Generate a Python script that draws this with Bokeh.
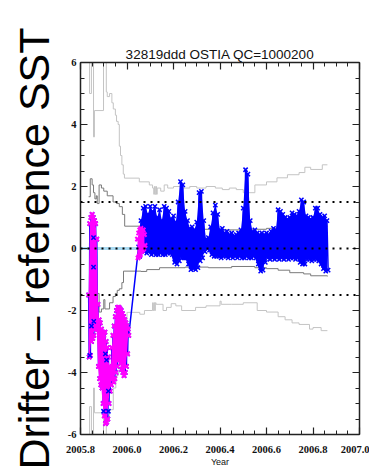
import numpy as np
from bokeh.plotting import figure
from bokeh.models import (FixedTicker, LinearAxis, Span, Title, Range1d,
                          CustomJSTickFormatter)
from bokeh.embed import file_html
from bokeh.resources import INLINE

TITLE = "32819ddd OSTIA QC=1000200"
Y_TITLE = "Drifter \u2013 reference SST"
X_TITLE = "Year"

x_ticks = [2005.8, 2006.0, 2006.2, 2006.4, 2006.6, 2006.8, 2007.0]
x_tick_labels = ["2005.8", "2006.0", "2006.2", "2006.4", "2006.6", "2006.8", "2007.0"]
y_ticks = [-6, -4, -2, 0, 2, 4, 6]
y_tick_labels = ["-6", "-4", "-2", "0", "2", "4", "6"]
thresholds = [1.5, 0.0, -1.5]

# early period (flagged, magenta) : high / low of each 0.005-yr bin
early_start = 2005.835
early_hi = [-1.5, 0.8, 1.0, 1.1, 1.0, 0.9, 0.8, 0.3, -1.8, -2.3,
            -2.4, -2.6, -2.7, -2.8, -2.7, -3.0, -3.2, -3.5, -3.8, -3.9,
            -3.2, -2.8, -2.5, -2.2, -2.0, -1.9, -1.9, -1.95, -2.0, -2.1,
            -2.2, -2.3, -2.4, -2.5, -2.6]
early_lo = [-3.5, -3.45, -3.0, -2.9, -2.8, -2.6, -2.5, -2.6, -3.8, -4.2,
            -4.4, -4.5, -5.0, -5.4, -5.65, -5.6, -5.5, -5.0, -4.6, -4.4,
            -4.2, -4.3, -4.2, -4.0, -3.8, -3.6, -3.5, -3.7, -3.9, -4.0,
            -4.1, -4.0, -3.8, -3.4, -2.8]

# later period (blue) : high / low of each 0.01-yr bin
late_start = 2006.05
late_hi = [0.05,
           0.9, 1.3, 1.36, 1.1, 1.36, 1.2, 1.36, 1.0, 1.25, 0.9,
           1.36, 1.3, 1.2, 0.95, 1.05, 0.85, 1.5, 2.16, 2.05, 1.2,
           0.9, 0.65, 0.7, 0.6, 0.85, 1.8, 1.84, 0.9, 0.3, 0.35,
           0.7, 1.15, 1.4, 1.1, 0.6, 0.65, 0.5, 0.55, 0.45, 0.5,
           0.4, 0.45, 0.5, 0.6, 1.3, 2.54, 2.4, 0.9, 0.55, 0.6,
           0.5, 0.45, 0.5, 0.45, 0.5, 0.45, 0.55, 0.65, 0.6, 1.25,
           1.2, 1.1, 1.0, 0.95, 1.0, 1.15, 1.1, 1.05, 1.2, 1.57,
           1.5, 1.05, 1.0, 0.95, 1.0, 1.3, 1.3, 1.1, 1.0, 1.05,
           0.9]
late_lo = [-0.25,
           -0.05, -0.1, -0.15, -0.1, -0.2, -0.15, -0.2, -0.2, -0.15, -0.2,
           -0.2, -0.15, -0.15, -0.2, -0.45, -0.5, -0.4, -0.3, -0.3, -0.3,
           -0.5, -0.68, -0.65, -0.68, -0.62, -0.4, -0.3, -0.1, 0.0, -0.05,
           -0.2, -0.25, -0.25, -0.25, -0.3, -0.25, -0.25, -0.3, -0.25, -0.3,
           -0.25, -0.3, -0.25, -0.3, -0.3, -0.25, -0.3, -0.3, -0.25, -0.3,
           -0.5, -0.73, -0.7, -0.45, -0.3, -0.35, -0.3, -0.35, -0.3, -0.35,
           -0.3, -0.35, -0.3, -0.35, -0.3, -0.3, -0.35, -0.3, -0.45, -0.5,
           -0.5, -0.35, -0.35, -0.4, -0.35, -0.35, -0.4, -0.5, -0.65, -0.73,
           -0.7]

# flagged points at the start of the later period
mag_late_t = [2006.045, 2006.05, 2006.055, 2006.06, 2006.065, 2006.07, 2006.075]
mag_late_hi = [0.3, 0.5, 0.6, 0.65, 0.55, 0.6, 0.45]
mag_late_lo = [-0.3, -0.25, -0.2, -0.1, -0.05, 0.0, 0.1]

# unflagged (blue) points inside the early period
blue_pts_t = [2005.840, 2005.847, 2005.856, 2005.856, 2005.857, 2005.899, 2005.907, 2005.912, 2005.920, 2005.920]
blue_pts_v = [-3.45, -2.5, 0.35, -0.6, -2.35, -5.25, -3.4, -3.6, -5.25, -4.6]

zero_t = [2005.8, 2006.05]
zero_v = [0.0, 0.0]

outer_up_t = [2005.835, 2005.839, 2005.847, 2005.856, 2005.860, 2005.899, 2005.911, 2005.915,
              2005.925, 2005.935, 2005.941, 2005.950, 2005.955, 2005.962, 2005.967, 2005.972,
              2005.978, 2005.984, 2005.989, 2006.053, 2006.096, 2006.110, 2006.115, 2006.118,
              2006.121, 2006.124, 2006.127, 2006.130, 2006.145, 2006.160, 2006.175, 2006.200,
              2006.240, 2006.270, 2006.300, 2006.340, 2006.380, 2006.410, 2006.440, 2006.470,
              2006.500, 2006.550, 2006.600, 2006.645, 2006.690, 2006.740, 2006.765, 2006.790,
              2006.840, 2006.862]
outer_up_v = [7.5, 5.0, 7.0, 3.6, 4.45, 7.5, 5.05, 4.9, 5.0, 4.7, 4.5, 4.3, 4.1, 4.0, 3.3, 3.0,
              2.7, 2.4, 2.27, 2.15, 2.05, 1.95, 1.75, 2.0, 1.75, 2.0, 1.75, 1.95, 1.85, 2.05,
              1.95, 2.0, 1.95, 2.0, 1.95, 2.0, 1.95, 1.9, 1.95, 1.9, 1.8, 2.05, 2.15, 2.28,
              2.38, 2.45, 2.62, 2.55, 2.7, 2.7]

outer_lo_t = [2005.835, 2005.839, 2005.847, 2005.856, 2005.860, 2005.899, 2005.911, 2005.925,
              2005.941, 2005.952, 2005.962, 2005.967, 2005.975, 2005.984, 2005.990, 2006.000,
              2006.055, 2006.075, 2006.110, 2006.113, 2006.116, 2006.119, 2006.122, 2006.125,
              2006.155, 2006.170, 2006.190, 2006.210, 2006.235, 2006.295, 2006.340, 2006.400,
              2006.405, 2006.450, 2006.500, 2006.560, 2006.600, 2006.650, 2006.680, 2006.710,
              2006.740, 2006.785, 2006.800, 2006.835, 2006.862]
outer_lo_v = [-7.5, -5.1, -7.0, -4.5, -5.3, -7.5, -5.4, -5.2, -4.5, -4.1, -4.0, -3.6, -3.0,
              -2.9, -2.3, -2.06, -2.12, -2.0, -1.75, -2.0, -1.75, -2.0, -1.75, -1.8, -2.0,
              -1.9, -1.78, -1.85, -2.0, -1.9, -1.85, -1.7, -1.8, -1.8, -1.75, -2.0, -2.05,
              -2.2, -2.3, -2.4, -2.45, -2.6, -2.55, -2.65, -2.65]

inner_up_t = [2005.835, 2005.842, 2005.850, 2005.856, 2005.862, 2005.868, 2005.872, 2005.880,
              2005.890, 2005.900, 2005.915, 2005.940, 2005.955, 2005.967, 2005.980, 2005.990,
              2006.060, 2006.100, 2006.200, 2006.300, 2006.400, 2006.500, 2006.600, 2006.650,
              2006.750, 2006.862]
inner_up_v = [1.67, 2.25, 2.05, 1.8, 1.6, 1.7, 1.45, 2.05, 1.95, 1.85, 1.7, 1.5, 1.45, 1.35,
              1.1, 0.72, 0.68, 0.62, 0.6, 0.62, 0.6, 0.62, 0.65, 0.7, 0.72, 0.72]

inner_lo_t = [2005.835, 2005.842, 2005.850, 2005.856, 2005.862, 2005.868, 2005.872, 2005.880,
              2005.890, 2005.900, 2005.905, 2005.925, 2005.940, 2005.950, 2005.958, 2005.967,
              2005.978, 2005.985, 2006.060, 2006.085, 2006.140, 2006.250, 2006.350, 2006.450,
              2006.550, 2006.600, 2006.650, 2006.700, 2006.760, 2006.790, 2006.862]
inner_lo_v = [-1.67, -2.25, -2.05, -1.8, -1.6, -1.7, -1.45, -2.05, -1.95, -1.65, -1.95, -1.75,
              -1.55, -1.45, -1.35, -1.3, -1.1, -0.73, -0.74, -0.68, -0.62, -0.6, -0.62, -0.58,
              -0.62, -0.65, -0.7, -0.78, -0.82, -0.88, -0.9]


def bins(t0, step, n):
    return [round(t0 + step * i, 4) for i in range(n)]


def zigzag(ts, step, hi, lo):
    zt, zv = [], []
    for t, h, l in zip(ts, hi, lo):
        zt += [t, t + step / 2]
        zv += [h, l]
    return zt, zv


early_bins = bins(early_start, 0.005, len(early_hi))
late_bins = bins(late_start, 0.01, len(late_hi))
early_t, early_v = zigzag(early_bins, 0.005, early_hi, early_lo)
late_t, late_v = zigzag(late_bins, 0.01, late_hi, late_lo)
ml_t, ml_v = zigzag(mag_late_t, 0.005, mag_late_hi, mag_late_lo)
blue_t = early_t + late_t
blue_v = early_v + late_v
mag_t = early_t + ml_t
mag_v = early_v + ml_v

BLUE = "#0000ff"
MAGENTA = "#ff00ff"

p = figure(width=369, height=469, x_range=Range1d(2005.8, 2007.0), y_range=Range1d(-6, 6),
           output_backend="svg", toolbar_location=None,
           min_border_left=79, min_border_right=10, min_border_top=62, min_border_bottom=34)
p.grid.visible = False
p.outline_line_color = None
p.background_fill_color = "white"
p.border_fill_color = "white"

GREY_OUT = "#c4c4c4"
GREY_IN = "#7a7a7a"
p.step(outer_up_t, outer_up_v, mode="after", line_color=GREY_OUT, line_width=1)
p.step(outer_lo_t, outer_lo_v, mode="after", line_color=GREY_OUT, line_width=1)
p.step(inner_up_t, inner_up_v, mode="after", line_color=GREY_IN, line_width=1)
p.step(inner_lo_t, inner_lo_v, mode="after", line_color=GREY_IN, line_width=1)
p.line(zero_t, zero_v, line_color="#a8daf2", line_width=3)

# blue: all observations
p.varea(x=late_bins, y1=late_lo, y2=late_hi, fill_color=BLUE)
p.line(blue_t, blue_v, line_color=BLUE, line_width=1.5)
p.scatter(blue_t, blue_v, marker="x", size=6, line_color=BLUE, line_width=1.5)
# magenta: flagged observations
p.varea(x=early_bins, y1=early_lo, y2=early_hi, fill_color=MAGENTA)
p.varea(x=mag_late_t, y1=mag_late_lo, y2=mag_late_hi, fill_color=MAGENTA)
p.scatter(mag_t, mag_v, marker="x", size=6, line_color=MAGENTA, line_width=2)
p.scatter(blue_pts_t, blue_pts_v, marker="x", size=6, line_color=BLUE, line_width=1.5)

for th in thresholds:
    p.add_layout(Span(location=th, dimension="width", line_color="black",
                      line_width=2, line_dash="2 5"))

TICK_FONT = "Liberation Sans Narrow"
LOOKUP = """
const i = tvals.findIndex(t => Math.abs(t - tick) < 1e-6);
return i >= 0 ? tlabels[i] : '';
"""
xfmt = CustomJSTickFormatter(args=dict(tvals=x_ticks, tlabels=x_tick_labels), code=LOOKUP)
yfmt = CustomJSTickFormatter(args=dict(tvals=y_ticks, tlabels=y_tick_labels), code=LOOKUP)
x_minor = [round(v, 3) for v in np.arange(2005.8, 2007.0001, 0.05)]
y_minor = [round(v, 2) for v in np.arange(-6, 6.001, 0.5)]


def style(ax, major, minor, fmt, labels=True):
    ax.ticker = FixedTicker(ticks=major, minor_ticks=minor)
    ax.formatter = fmt
    ax.axis_line_color = "#222222"
    ax.axis_line_width = 1.5
    ax.major_tick_in = 7
    ax.major_tick_out = 0
    ax.minor_tick_in = 4
    ax.minor_tick_out = 0
    ax.major_tick_line_color = "#222222"
    ax.minor_tick_line_color = "#222222"
    ax.major_tick_line_width = 1.2
    ax.minor_tick_line_width = 1
    if labels:
        ax.major_label_text_font = TICK_FONT
        ax.major_label_text_font_style = "bold"
        ax.major_label_text_font_size = "10.5px"
        ax.major_label_text_color = "#111111"
    else:
        ax.major_label_text_font_size = "0px"
        ax.major_label_standoff = 0


style(p.xaxis[0], x_ticks, x_minor, xfmt)
p.xaxis[0].major_label_standoff = 11
p.xaxis[0].axis_label = X_TITLE
p.xaxis[0].axis_label_standoff = 1
p.xaxis[0].axis_label_text_font = "Liberation Sans"
p.xaxis[0].axis_label_text_font_style = "normal"
p.xaxis[0].axis_label_text_font_size = "9px"
p.xaxis[0].axis_label_text_color = "#111111"
style(p.yaxis[0], y_ticks, y_minor, yfmt)
p.yaxis[0].major_label_standoff = 4

ax_r = LinearAxis()
style(ax_r, y_ticks, y_minor, CustomJSTickFormatter(code="return '';"), labels=False)
p.add_layout(ax_r, "right")
ax_t = LinearAxis()
style(ax_t, x_ticks, x_minor, CustomJSTickFormatter(code="return '';"), labels=False)
p.add_layout(ax_t, "above")

p.title.text = TITLE
p.title.align = "center"
p.title.text_font = "Liberation Sans"
p.title.text_font_style = "normal"
p.title.text_font_size = "13.5px"
p.title.text_color = "#111111"
p.title.standoff = 2

p.add_layout(Title(text=Y_TITLE, align="center", offset=11, standoff=14,
                   text_font="Liberation Sans", text_font_style="normal",
                   text_font_size="43px", text_color="black"), "left")

open("out.html", "w").write(file_html(p, INLINE))
